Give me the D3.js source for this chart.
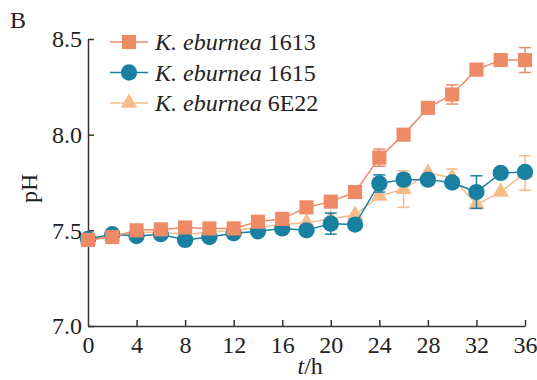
<!DOCTYPE html>
<html>
<head>
<meta charset="utf-8">
<script src="https://cdn.jsdelivr.net/npm/d3@7"></script>
<style>
  body { margin: 0; background: #fff; }
  text { font-family: "Liberation Serif", "DejaVu Serif", serif; fill: #222; }
</style>
</head>
<body>
<div id="chart"></div>
<script>
// time points (h)
const hours = [0, 2, 4, 6, 8, 10, 12, 14, 16, 18, 20, 22, 24, 26, 28, 30, 32, 34, 36];

// pH values
const ph1613 = [7.45, 7.465, 7.50, 7.505, 7.515, 7.51, 7.51, 7.545, 7.56, 7.62, 7.65, 7.70, 7.88, 8.00, 8.14, 8.21, 8.34, 8.39, 8.39];
const err1613 = [0.01, 0.01, 0.01, 0.01, 0.01, 0.01, 0.01, 0.01, 0.01, 0.01, 0.01, 0.01, 0.045, 0.01, 0.01, 0.05, 0.01, 0.01, 0.065];

const ph1615 = [7.455, 7.48, 7.47, 7.48, 7.45, 7.465, 7.485, 7.495, 7.51, 7.50, 7.535, 7.53, 7.745, 7.765, 7.765, 7.75, 7.70, 7.80, 7.805];
const err1615 = [0.01, 0.01, 0.01, 0.01, 0.01, 0.01, 0.01, 0.01, 0.01, 0.01, 0.055, 0.01, 0.045, 0.03, 0.01, 0.01, 0.085, 0.01, 0.01];

const ph6E22 = [7.45, 7.47, 7.49, 7.49, 7.48, 7.49, 7.50, 7.515, 7.53, 7.54, 7.56, 7.58, 7.68, 7.715, 7.80, 7.775, 7.635, 7.70, 7.80];
const err6E22 = [0.01, 0.01, 0.01, 0.01, 0.01, 0.01, 0.01, 0.01, 0.01, 0.01, 0.01, 0.01, 0.01, 0.095, 0.01, 0.045, 0.015, 0.01, 0.09];

const strains = ["1613", "1615", "6E22"];
const colors = ["#ee8a66", "#1a80a2", "#f6bc8a"];
const xTicks = [0, 4, 8, 12, 16, 20, 24, 28, 32, 36];
const yTicks = [7.0, 7.5, 8.0, 8.5];

const width = 537, height = 380;
const margin = {top: 39, right: 12, bottom: 54, left: 88};
const fs = "24px";

const svg = d3.select("#chart").append("svg")
    .attr("width", width)
    .attr("height", height);

const x = d3.scaleLinear().domain([0, 36]).range([margin.left, width - margin.right]);
const y = d3.scaleLinear().domain([7.0, 8.5]).range([height - margin.bottom, margin.top]);

// axes
let xAxis = svg.append("g")
    .attr("transform", "translate(0," + (height - margin.bottom) + ")")
    .call(d3.axisBottom(x).tickValues(xTicks).tickSize(-6).tickPadding(8).tickSizeOuter(0));
xAxis.selectAll("text").style("font-size", fs).attr("dy", "0.8em");

let yAxis = svg.append("g")
    .attr("transform", "translate(" + margin.left + ",0)")
    .call(d3.axisLeft(y).tickValues(yTicks).tickFormat(d3.format(".1f")).tickSize(-6).tickPadding(6).tickSizeOuter(0));
yAxis.selectAll("text").style("font-size", fs);

svg.selectAll(".domain, .tick line").attr("stroke", "#333").attr("stroke-width", 1.5);
xAxis.select(".tick line").remove(); // no tick at the origin

// axis titles
svg.append("text")
    .attr("transform", "translate(37," + y(7.72) + ") rotate(-90)")
    .attr("text-anchor", "middle")
    .style("font-size", fs)
    .text("pH");

let xt = svg.append("text")
    .attr("x", x(18.3))
    .attr("y", 374)
    .attr("text-anchor", "middle")
    .style("font-size", fs);
xt.append("tspan").style("font-style", "italic").text("t");
xt.append("tspan").text("/h");

svg.append("text")
    .attr("x", 10)
    .attr("y", 28)
    .style("font-size", fs)
    .text("B");

// series
const series = [
  {name: strains[0], vals: ph1613, err: err1613, color: colors[0], shape: d3.symbolSquare, size: 200},
  {name: strains[1], vals: ph1615, err: err1615, color: colors[1], shape: d3.symbolCircle, size: 210},
  {name: strains[2], vals: ph6E22, err: err6E22, color: colors[2], shape: d3.symbolTriangle, size: 120}
];

const line = d3.line().x(d => x(d[0])).y(d => y(d[1]));

// draw the lightest first, like the figure
[2, 1, 0].forEach(i => {
  let s = series[i];
  let pts = hours.map((h, j) => [h, s.vals[j], s.err[j]]);
  let g = svg.append("g");

  // error bars
  let eb = g.selectAll(".eb").data(pts.filter(p => p[2] > 0.02)).enter().append("g")
      .attr("stroke", s.color).attr("stroke-width", 1.5);
  eb.append("line")
      .attr("x1", d => x(d[0])).attr("x2", d => x(d[0]))
      .attr("y1", d => y(d[1] + d[2])).attr("y2", d => y(d[1] - d[2]));
  eb.append("line")
      .attr("x1", d => x(d[0]) - 6).attr("x2", d => x(d[0]) + 6)
      .attr("y1", d => y(d[1] + d[2])).attr("y2", d => y(d[1] + d[2]));
  eb.append("line")
      .attr("x1", d => x(d[0]) - 6).attr("x2", d => x(d[0]) + 6)
      .attr("y1", d => y(d[1] - d[2])).attr("y2", d => y(d[1] - d[2]));

  g.append("path")
      .datum(pts)
      .attr("fill", "none")
      .attr("stroke", s.color)
      .attr("stroke-width", 1.5)
      .attr("d", line);

  g.selectAll(".m").data(pts).enter().append("path")
      .attr("transform", d => "translate(" + x(d[0]) + "," + y(d[1]) + ")")
      .attr("d", d3.symbol().type(s.shape).size(s.size))
      .attr("fill", s.color);
});

// legend
const legend = svg.append("g");
series.forEach((s, i) => {
  let ly = 42 + i * 30.5;
  legend.append("line")
      .attr("x1", 110).attr("x2", 148)
      .attr("y1", ly).attr("y2", ly)
      .attr("stroke", s.color).attr("stroke-width", 1.5);
  legend.append("path")
      .attr("transform", "translate(129," + ly + ")")
      .attr("d", d3.symbol().type(s.shape).size(s.size))
      .attr("fill", s.color);
  let t = legend.append("text")
      .attr("x", 155).attr("y", ly + 8)
      .style("font-size", fs);
  t.append("tspan").style("font-style", "italic").text("K. eburnea");
  t.append("tspan").text(" " + s.name);
});
</script>
</body>
</html>
